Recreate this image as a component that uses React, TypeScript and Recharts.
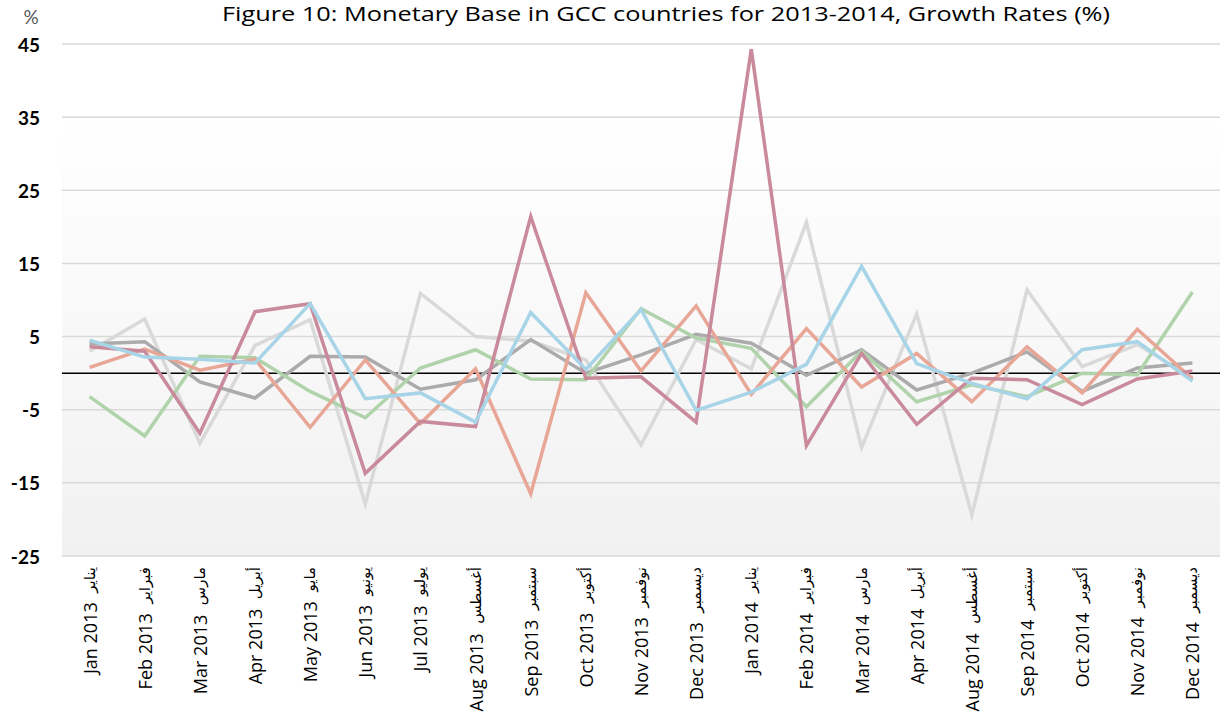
import React from 'react';
import { LineChart, Line, XAxis, YAxis, CartesianGrid, ReferenceLine } from 'recharts';

const monthsEn = [
  'Jan 2013', 'Feb 2013', 'Mar 2013', 'Apr 2013', 'May 2013', 'Jun 2013', 'Jul 2013',
  'Aug 2013', 'Sep 2013', 'Oct 2013', 'Nov 2013', 'Dec 2013', 'Jan 2014', 'Feb 2014',
  'Mar 2014', 'Apr 2014', 'Aug 2014', 'Sep 2014', 'Oct 2014', 'Nov 2014', 'Dec 2014',
];
const monthsAr = [
  'يناير', 'فبراير', 'مارس', 'أبريل', 'مايو', 'يونيو', 'يوليو',
  'أغسطس', 'سبتمبر', 'أكتوبر', 'نوفمبر', 'ديسمبر', 'يناير', 'فبراير',
  'مارس', 'أبريل', 'أغسطس', 'سبتمبر', 'أكتوبر', 'نوفمبر', 'ديسمبر',
];

const roseSeries = [3.6, 3.0, -8.2, 8.4, 9.5, -13.7, -6.6, -7.3, 21.4, -0.7, -0.5, -6.7, 44.3, -9.9, 2.7, -7.0, -0.7, -0.9, -4.3, -0.8, 0.3];
const salmonSeries = [0.8, 3.3, 0.4, 1.9, -7.4, 1.8, -6.9, 0.6, -16.5, 11.0, 0.3, 9.2, -2.9, 6.1, -1.9, 2.7, -3.9, 3.6, -2.7, 6.0, -0.8];
const blueSeries = [4.5, 2.2, 1.9, 1.4, 9.5, -3.5, -2.7, -6.7, 8.3, 0.5, 8.7, -5.1, -2.6, 1.2, 14.6, 1.3, -1.4, -3.5, 3.2, 4.3, -1.1];
const lightGraySeries = [3.0, 7.4, -9.6, 3.8, 7.3, -17.9, 10.9, 5.0, 4.4, 1.8, -9.8, 4.6, 0.6, 20.6, -10.2, 8.1, -19.4, 11.4, 0.9, 3.9, -0.6];
const darkGraySeries = [4.0, 4.3, -1.2, -3.4, 2.3, 2.2, -2.2, -0.9, 4.6, 0.0, 2.5, 5.3, 4.1, -0.3, 3.2, -2.3, 0.0, 2.9, -2.5, 0.7, 1.4];
const greenSeries = [-3.2, -8.6, 2.3, 2.1, -2.5, -6.1, 0.7, 3.2, -0.8, -0.9, 8.8, 4.8, 3.4, -4.6, 3.0, -3.9, -1.6, -3.2, 0.0, -0.2, 11.1];

const yTicks = [-25, -15, -5, 5, 15, 25, 35, 45];

const title = 'Figure 10: Monetary Base in GCC countries for 2013-2014, Growth Rates (%)';

const data = monthsEn.map((m, i) => ({
  label: m,
  rose: roseSeries[i],
  salmon: salmonSeries[i],
  blue: blueSeries[i],
  lightGray: lightGraySeries[i],
  darkGray: darkGraySeries[i],
  green: greenSeries[i],
}));

const W = 1222;
const H = 719;
const PLOT_L = 62;
const PLOT_R = 1220;
const PLOT_T = 44;
const PLOT_B = 556;
const band = (PLOT_R - PLOT_L) / data.length;

const XTick = (props: any) => {
  const { x, payload, index } = props;
  const ar = monthsAr[index] ?? '';
  return (
    <text
      transform={`translate(${x},567) rotate(-90)`}
      textAnchor="end"
      dominantBaseline="central"
      fill="#000"
      style={{ whiteSpace: 'pre' }}
    >
      <tspan fontFamily="'Open Sans', sans-serif" fontSize={18}>{payload.value}</tspan>
      <tspan fontFamily="'DejaVu Sans', sans-serif" fontSize={15}>{'  ' + ar}</tspan>
    </text>
  );
};

const YTick = (props: any) => {
  const { y, payload } = props;
  return (
    <text
      x={40}
      y={y}
      textAnchor="end"
      dominantBaseline="central"
      fontFamily="Lato, sans-serif"
      fontWeight="bold"
      fontSize={19}
      fill="#000"
    >
      {payload.value}
    </text>
  );
};

export default function App() {
  return (
    <div style={{ position: 'absolute', left: 0, top: 0, width: W, height: H, background: '#fff' }}>
      <div
        style={{
          position: 'absolute',
          left: PLOT_L,
          top: PLOT_T,
          width: PLOT_R - PLOT_L,
          height: PLOT_B - PLOT_T,
          background: 'linear-gradient(to bottom, #ffffff 0%, #ffffff 14%, #f1f1f1 100%)',
        }}
      />
      <svg width={W} height={60} style={{ position: 'absolute', left: 0, top: 0 }}>
        <text
          x={666}
          y={21}
          textAnchor="middle"
          fontFamily="'Open Sans', sans-serif"
          fontSize={20}
          textLength={888}
          lengthAdjust="spacingAndGlyphs"
          fill="#000"
        >
          {title}
        </text>
        <text x={31} y={24} textAnchor="middle" fontFamily="Lato, sans-serif" fontSize={19} fill="#595959">
          %
        </text>
      </svg>
      <div style={{ position: 'absolute', left: 0, top: 0 }}>
        <LineChart width={W} height={H} data={data} margin={{ top: PLOT_T, right: W - PLOT_R, left: 0, bottom: 0 }}>
          <CartesianGrid horizontal vertical={false} stroke="#d9d9d9" strokeWidth={1.5} fill="none" />
          <XAxis
            dataKey="label"
            interval={0}
            axisLine={false}
            tickLine={false}
            height={H - PLOT_B}
            padding={{ left: band / 2, right: band / 2 }}
            tick={<XTick />}
          />
          <YAxis
            domain={[-25, 45]}
            ticks={yTicks}
            width={PLOT_L}
            axisLine={false}
            tickLine={false}
            tick={<YTick />}
            allowDataOverflow
          />
          <ReferenceLine y={0} stroke="#000" strokeWidth={1.5} />
          <Line type="linear" dataKey="lightGray" stroke="#d9d9d9" strokeWidth={3.5} dot={false} isAnimationActive={false} />
          <Line type="linear" dataKey="darkGray" stroke="#ababab" strokeWidth={3.5} dot={false} isAnimationActive={false} />
          <Line type="linear" dataKey="green" stroke="#b0d3ab" strokeWidth={3.5} dot={false} isAnimationActive={false} />
          <Line type="linear" dataKey="salmon" stroke="#e8a697" strokeWidth={3.5} dot={false} isAnimationActive={false} />
          <Line type="linear" dataKey="rose" stroke="#c98a9b" strokeWidth={3.5} dot={false} isAnimationActive={false} />
          <Line type="linear" dataKey="blue" stroke="#a8d4e8" strokeWidth={3.5} dot={false} isAnimationActive={false} />
        </LineChart>
      </div>
    </div>
  );
}
